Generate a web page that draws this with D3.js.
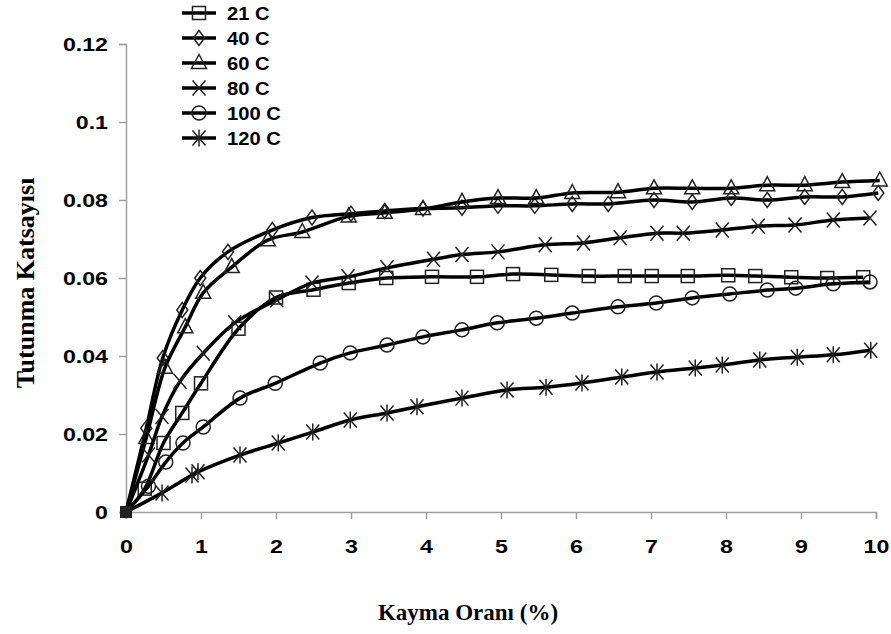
<!DOCTYPE html>
<html>
<head>
<meta charset="utf-8">
<script src="https://cdn.jsdelivr.net/npm/d3@7"></script>
<style>
  body { margin: 0; background: #fff; }
  svg { display: block; }
</style>
</head>
<body>
<div id="chart"></div>
<script>
// ---- data ----
var seriesNames = ["21 C", "40 C", "60 C", "80 C", "100 C", "120 C"];
var markerTypes = ["square", "diamond", "triangle", "cross", "circle", "asterisk"];

var x21 = [0, 0.25, 0.5, 0.75, 1, 1.5, 2, 2.5, 2.97, 3.47, 4.08, 4.68, 5.16, 5.67, 6.17, 6.65, 7.01, 7.49, 8.03, 8.39, 8.87, 9.35, 9.83];
var y21 = [0, 0.006, 0.0177, 0.0254, 0.033, 0.047, 0.055, 0.057, 0.0587, 0.060, 0.0603, 0.0603, 0.061, 0.0608, 0.0605, 0.0605, 0.0605, 0.0605, 0.0607, 0.0605, 0.0602, 0.060, 0.0602];

var x40 = [0, 0.27, 0.49, 0.75, 0.99, 1.36, 1.95, 2.48, 3.0, 3.45, 3.96, 4.48, 4.96, 5.45, 5.95, 6.43, 7.04, 7.55, 8.07, 8.55, 9.05, 9.55, 10.03];
var y40 = [0, 0.0215, 0.0395, 0.0518, 0.060, 0.0667, 0.0723, 0.0755, 0.0765, 0.0772, 0.0778, 0.078, 0.0785, 0.0785, 0.079, 0.079, 0.080, 0.0795, 0.0805, 0.080, 0.0808, 0.0808, 0.0818];

var x60 = [0, 0.27, 0.52, 0.79, 1.03, 1.41, 1.89, 2.35, 2.97, 3.45, 3.96, 4.48, 4.96, 5.47, 5.95, 6.56, 7.04, 7.55, 8.07, 8.55, 9.05, 9.55, 10.05];
var y60 = [0, 0.019, 0.037, 0.0474, 0.0562, 0.0628, 0.0697, 0.0718, 0.0758, 0.0767, 0.0777, 0.0795, 0.0805, 0.0805, 0.0818, 0.082, 0.083, 0.083, 0.083, 0.0838, 0.0838, 0.0846, 0.085];

var x80 = [0, 0.3, 0.48, 0.72, 1.03, 1.45, 2.01, 2.48, 2.96, 3.48, 4.1, 4.48, 4.96, 5.59, 6.1, 6.59, 7.08, 7.43, 7.95, 8.43, 8.92, 9.43, 9.92];
var y80 = [0, 0.0146, 0.0245, 0.0335, 0.0407, 0.0485, 0.0544, 0.0587, 0.0603, 0.0626, 0.0648, 0.066, 0.0667, 0.0685, 0.069, 0.0703, 0.0715, 0.0715, 0.0723, 0.0733, 0.0736, 0.0749, 0.0754];

var x100 = [0, 0.3, 0.53, 0.76, 1.03, 1.52, 1.99, 2.59, 2.99, 3.48, 3.96, 4.48, 4.95, 5.47, 5.95, 6.56, 7.07, 7.55, 8.05, 8.55, 8.93, 9.43, 9.92];
var y100 = [0, 0.0066, 0.0128, 0.0177, 0.0218, 0.0292, 0.033, 0.0382, 0.0408, 0.0428, 0.0449, 0.0467, 0.0485, 0.0497, 0.051, 0.0526, 0.0536, 0.0549, 0.0559, 0.0569, 0.0574, 0.0585, 0.059];

var x120 = [0, 0.48, 0.88, 0.96, 1.52, 2.03, 2.49, 2.99, 3.48, 3.88, 4.48, 5.08, 5.6, 6.08, 6.61, 7.08, 7.59, 7.95, 8.45, 8.95, 9.43, 9.93];
var y120 = [0, 0.0049, 0.0095, 0.0103, 0.0146, 0.0177, 0.0205, 0.0236, 0.0254, 0.027, 0.0292, 0.0313, 0.032, 0.0331, 0.0346, 0.0359, 0.0369, 0.0377, 0.039, 0.0397, 0.0403, 0.0415];

var xTicks = [0, 1, 2, 3, 4, 5, 6, 7, 8, 9, 10];
var yTicks = [0, 0.02, 0.04, 0.06, 0.08, 0.1, 0.12];

var xs = [x21, x40, x60, x80, x100, x120];
var ys = [y21, y40, y60, y80, y100, y120];

// ---- canvas ----
var width = 891, height = 634;
var margin = { left: 126, right: 15, top: 44, bottom: 122 };

var svg = d3.select("#chart").append("svg")
    .attr("width", width)
    .attr("height", height);

var scaleX = d3.scaleLinear().domain([0, 10]).range([margin.left, width - margin.right]);
var scaleY = d3.scaleLinear().domain([0, 0.12]).range([height - margin.bottom, margin.top]);

// the labels in the original are a bit wider than Arial: stretch them
function widen(sel, k) {
    sel.each(function () {
        var w = this.getComputedTextLength();
        d3.select(this).attr("textLength", w * k).attr("lengthAdjust", "spacingAndGlyphs");
    });
}

// ---- axes ----
var xAxis = d3.axisBottom(scaleX).tickValues(xTicks).tickSize(7).tickPadding(21)
    .tickFormat(d3.format("d"));
var yAxis = d3.axisLeft(scaleY).tickValues(yTicks).tickSize(7).tickPadding(11)
    .tickFormat(d => d === 0 ? "0" : String(+d.toFixed(2)));

var gx = svg.append("g")
    .attr("transform", "translate(0," + scaleY(0) + ")")
    .call(xAxis);
var gy = svg.append("g")
    .attr("transform", "translate(" + scaleX(0) + ",0)")
    .call(yAxis);

[gx, gy].forEach(function (g) {
    g.select(".domain").attr("stroke", "#a0a0a0").attr("stroke-width", 1.5);
    g.selectAll(".tick line").attr("stroke", "#a0a0a0").attr("stroke-width", 1.5);
    g.selectAll(".tick text")
        .attr("fill", "#000")
        .style("font-family", "Liberation Sans, Arial, sans-serif")
        .style("font-weight", "bold")
        .style("font-size", "19px")
        .call(widen, 1.22);
});

// ---- titles ----
svg.append("text")
    .attr("x", 468)
    .attr("y", 620)
    .attr("text-anchor", "middle")
    .style("font-family", "Liberation Serif, Times New Roman, serif")
    .style("font-weight", "bold")
    .style("font-size", "23px")
    .text("Kayma Oranı (%)");

svg.append("text")
    .attr("transform", "translate(34,283) rotate(-90)")
    .attr("text-anchor", "middle")
    .style("font-family", "Liberation Serif, Times New Roman, serif")
    .style("font-weight", "bold")
    .style("font-size", "26px")
    .text("Tutunma Katsayısı");

// ---- markers ----
function drawMarker(g, type, cx, cy) {
    var s = 6.5;
    var el;
    if (type === "square") {
        el = g.append("rect").attr("x", cx - s).attr("y", cy - s).attr("width", 2 * s).attr("height", 2 * s);
    } else if (type === "diamond") {
        el = g.append("path").attr("d", "M" + cx + "," + (cy - 7.5) + "L" + (cx + 5.5) + "," + cy + "L" + cx + "," + (cy + 7.5) + "L" + (cx - 5.5) + "," + cy + "Z");
    } else if (type === "triangle") {
        el = g.append("path").attr("d", "M" + cx + "," + (cy - 8.5) + "L" + (cx + 7.5) + "," + (cy + 5.5) + "L" + (cx - 7.5) + "," + (cy + 5.5) + "Z");
    } else if (type === "circle") {
        el = g.append("circle").attr("cx", cx).attr("cy", cy).attr("r", 7);
    } else if (type === "cross") {
        el = g.append("path").attr("d", "M" + (cx - 6.5) + "," + (cy - 7.5) + "L" + (cx + 6.5) + "," + (cy + 7.5) + "M" + (cx + 6.5) + "," + (cy - 7.5) + "L" + (cx - 6.5) + "," + (cy + 7.5));
    } else {
        el = g.append("path").attr("d", "M" + (cx - 6.5) + "," + (cy - 7.5) + "L" + (cx + 6.5) + "," + (cy + 7.5) + "M" + (cx + 6.5) + "," + (cy - 7.5) + "L" + (cx - 6.5) + "," + (cy + 7.5) + "M" + cx + "," + (cy - 8.5) + "L" + cx + "," + (cy + 8.5));
    }
    el.attr("stroke", "#222").attr("stroke-width", 1.5).attr("fill", "none");
}

// ---- lines ----
var line = d3.line()
    .x(d => scaleX(d[0]))
    .y(d => scaleY(d[1]))
    .curve(d3.curveCatmullRom.alpha(0.5));

seriesNames.forEach(function (name, i) {
    var pts = xs[i].map((x, j) => [x, ys[i][j]]);
    var g = svg.append("g");
    g.append("path")
        .datum(pts)
        .attr("d", line)
        .attr("fill", "none")
        .attr("stroke", "#000")
        .attr("stroke-width", 3.5);
    pts.forEach(function (p, j) {
        if (j === 0) return;
        drawMarker(g, markerTypes[i], scaleX(p[0]), scaleY(p[1]));
    });
});

// origin marker (filled blob in the original)
svg.append("rect")
    .attr("x", scaleX(0) - 6).attr("y", scaleY(0) - 6)
    .attr("width", 12).attr("height", 12)
    .attr("fill", "#222");

// ---- legend ----
var legend = svg.append("g");
seriesNames.forEach(function (name, i) {
    var ly = 13 + i * 25;
    legend.append("line")
        .attr("x1", 182).attr("x2", 216)
        .attr("y1", ly).attr("y2", ly)
        .attr("stroke", "#000").attr("stroke-width", 3.5);
    drawMarker(legend, markerTypes[i], 199, ly);
    legend.append("text")
        .attr("x", 227)
        .attr("y", ly + 7)
        .style("font-family", "Liberation Sans, Arial, sans-serif")
        .style("font-weight", "bold")
        .style("font-size", "18px")
        .text(name)
        .call(widen, 1.12);
});
</script>
</body>
</html>
